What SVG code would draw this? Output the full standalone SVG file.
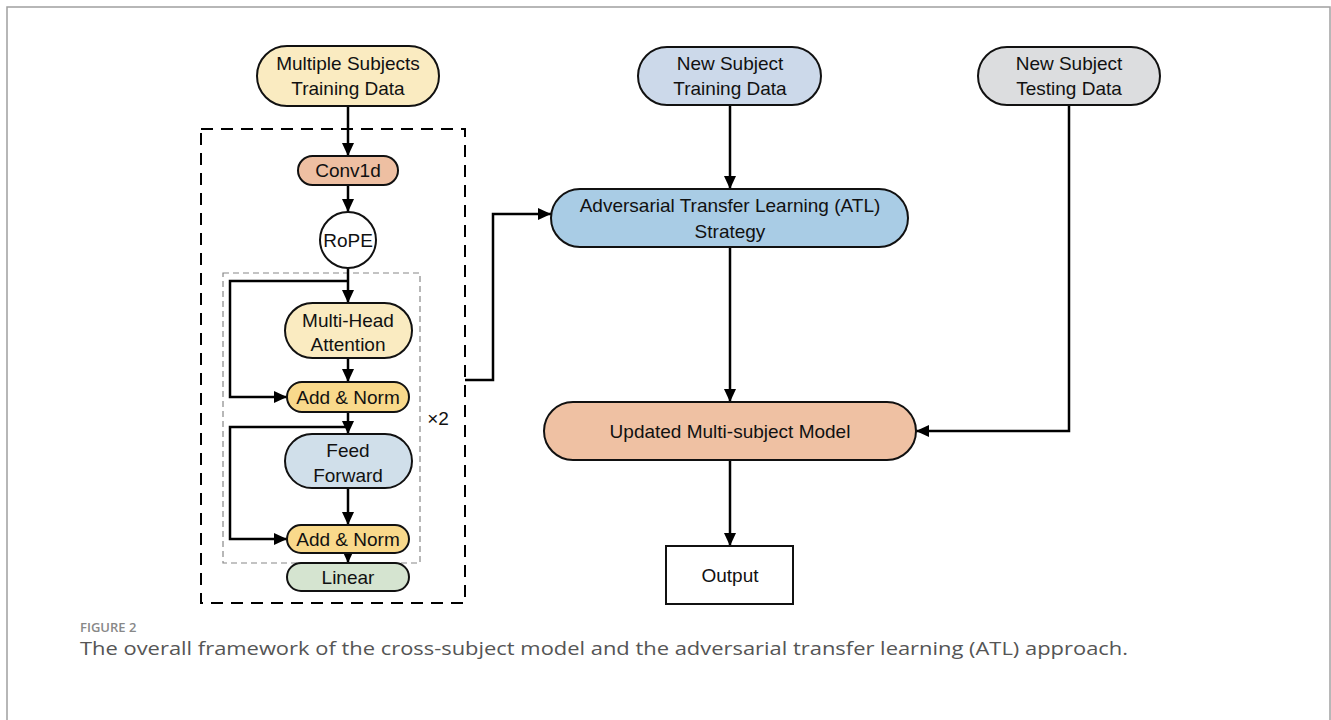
<svg xmlns="http://www.w3.org/2000/svg" width="1331" height="720" viewBox="0 0 1331 720">
<defs>
<marker id="ah" markerUnits="userSpaceOnUse" markerWidth="14" markerHeight="14" viewBox="0 0 14 14" refX="13" refY="7" orient="auto">
<path d="M0,1 L13,7 L0,13 z" fill="#000"/>
</marker>
</defs>
<style>
.node{stroke:#111;stroke-width:2}
.t{font-family:"Liberation Sans",Arial,sans-serif;font-size:19px;fill:#111;text-anchor:middle}
.c{fill:none;stroke:#000;stroke-width:2.5}
.ca{fill:none;stroke:#000;stroke-width:2.5;marker-end:url(#ah)}
</style>
<rect x="0" y="0" width="1331" height="720" fill="#fff"/>
<rect x="7" y="7" width="1323" height="800" fill="none" stroke="#a0a0a0" stroke-width="1.5"/>

<g id="outer-box"><rect x="201" y="129" width="264" height="474" fill="none" stroke="#000" stroke-width="2" stroke-dasharray="12 8"/></g>
<g id="inner-box"><rect x="223" y="273" width="197" height="290" fill="none" stroke="#888" stroke-width="1.2" stroke-dasharray="6 4"/></g>

<g id="connectors">
<line class="ca" x1="348" y1="106" x2="348" y2="156"/>
<line class="ca" x1="348" y1="185" x2="348" y2="212"/>
<line class="ca" x1="348" y1="268" x2="348" y2="303"/>
<polyline class="ca" points="348,281 230,281 230,397 287,397"/>
<line class="ca" x1="348" y1="358" x2="348" y2="382"/>
<line class="ca" x1="348" y1="412" x2="348" y2="434"/>
<polyline class="ca" points="348,427 230,427 230,539 287,539"/>
<line class="ca" x1="348" y1="488" x2="348" y2="525"/>
<line class="ca" x1="348" y1="553" x2="348" y2="563"/>
<polyline class="ca" points="465,380 493,380 493,214 551,214"/>
<line class="ca" x1="730" y1="105" x2="730" y2="189"/>
<line class="ca" x1="730" y1="247" x2="730" y2="402"/>
<polyline class="ca" points="1069,105 1069,431 916,431"/>
<line class="ca" x1="730" y1="460" x2="730" y2="546"/>
</g>

<g id="multi-subjects">
<rect class="node" x="257" y="46" width="182" height="60" rx="30" fill="#FAEBC1"/>
<text class="t" x="348" y="70">Multiple Subjects</text>
<text class="t" x="348" y="95">Training Data</text>
</g>
<g id="conv1d">
<rect class="node" x="298" y="156" width="100" height="29" rx="14.5" fill="#EEBFA2"/>
<text class="t" x="348" y="177">Conv1d</text>
</g>
<g id="rope">
<circle class="node" cx="348" cy="240" r="28" fill="#fff"/>
<text class="t" x="348" y="247">RoPE</text>
</g>
<g id="mha">
<rect class="node" x="285" y="303" width="127" height="55" rx="27.5" fill="#FAEBC1"/>
<text class="t" x="348" y="327">Multi-Head</text>
<text class="t" x="348" y="351">Attention</text>
</g>
<g id="addnorm1">
<rect class="node" x="287" y="382" width="122" height="30" rx="15" fill="#F9D98B"/>
<text class="t" x="348" y="404">Add &amp; Norm</text>
</g>
<g id="ff">
<rect class="node" x="285" y="434" width="127" height="54" rx="27" fill="#D0DFEA"/>
<text class="t" x="348" y="457">Feed</text>
<text class="t" x="348" y="482">Forward</text>
</g>
<g id="addnorm2">
<rect class="node" x="287" y="525" width="122" height="28" rx="14" fill="#F9D98B"/>
<text class="t" x="348" y="546">Add &amp; Norm</text>
</g>
<g id="times2"><text class="t" x="438" y="425">×2</text></g>
<g id="linear">
<rect class="node" x="287" y="563" width="122" height="28" rx="14" fill="#D5E4D0"/>
<text class="t" x="348" y="584">Linear</text>
</g>

<g id="new-train">
<rect class="node" x="638" y="47" width="183" height="58" rx="29" fill="#CCD9EA"/>
<text class="t" x="730" y="70">New Subject</text>
<text class="t" x="730" y="95">Training Data</text>
</g>
<g id="new-test">
<rect class="node" x="978" y="47" width="182" height="58" rx="29" fill="#DCDDDF"/>
<text class="t" x="1069" y="70">New Subject</text>
<text class="t" x="1069" y="95">Testing Data</text>
</g>
<g id="atl">
<rect class="node" x="551" y="189" width="357" height="58" rx="29" fill="#A9CCE5"/>
<text class="t" x="730" y="212">Adversarial Transfer Learning (ATL)</text>
<text class="t" x="730" y="238">Strategy</text>
</g>
<g id="updated">
<rect class="node" x="544" y="402" width="372" height="58" rx="29" fill="#EFC1A3"/>
<text class="t" x="730" y="438">Updated Multi-subject Model</text>
</g>
<g id="output">
<rect class="node" x="666" y="546" width="127" height="58" fill="#fff"/>
<text class="t" x="730" y="582">Output</text>
</g>

<g id="caption">
<text x="80" y="632" style="font-family:'Open Sans','Liberation Sans',sans-serif;font-size:13px;fill:#888;font-weight:600">FIGURE 2</text>
<text x="80" y="655" textLength="1048" lengthAdjust="spacingAndGlyphs" style="font-family:'Open Sans','Liberation Sans',sans-serif;font-size:18px;fill:#555">The overall framework of the cross-subject model and the adversarial transfer learning (ATL) approach.</text>
</g>
</svg>
